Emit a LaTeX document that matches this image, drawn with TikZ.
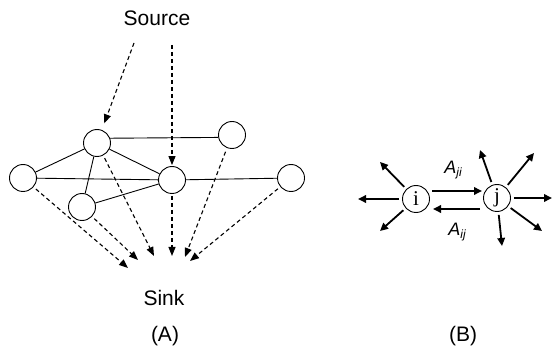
\documentclass[tikz,border=0pt]{standalone}
\usepackage{fontspec}
\setmainfont{Liberation Sans}
\newfontfamily\serifnd{Liberation Serif}
\usetikzlibrary{arrows.meta,calc}
\begin{document}
\begin{tikzpicture}[x=1pt,y=-1pt,
  nd/.style={circle,draw,line width=0.9pt,minimum size=27pt,inner sep=0pt},
  ed/.style={line width=0.9pt},
  da/.style={dash pattern=on 4pt off 3pt, line width=1.1pt, -{Triangle[length=9pt,width=7pt]}},
  ba/.style={line width=1.8pt, -{Triangle[length=8pt,width=7.5pt]}},
  lab/.style={font=\fontsize{21}{25}\selectfont, inner sep=0pt},
  sub/.style={font=\fontsize{18}{22}\selectfont\itshape, inner sep=0pt}]
\useasboundingbox (0,0) rectangle (553,352);
% ---- (A) ----
\node[nd] (n1) at (97,143) {};
\node[nd] (n2) at (232,135) {};
\node[nd] (n3) at (23,178) {};
\node[nd] (n4) at (82,207) {};
\node[nd] (n5) at (172,180) {};
\node[nd] (n6) at (291,178) {};
\draw[ed] (n1.20) -- (n2.190);
\draw[ed] (n1) -- (n3);
\draw[ed] (n1) -- (n4);
\draw[ed] (n1) -- (n5);
\draw[ed] (n3) -- (n5);
\draw[ed] (n4) -- (n5);
\draw[ed] (n5) -- (n6);
\node[lab] (src) at (157,18) {Source};
\node[lab] (snk) at (164,298) {Sink};
\coordinate (s1) at (134,43);
\coordinate (s2) at (172,45);
\draw[da,shorten >=7pt] (s1) -- (n1);
\draw[da,shorten >=1pt] (s2) -- (n5);
\coordinate (t3) at (128,268);
\coordinate (t4) at (138,260);
\coordinate (t1) at (154,256);
\coordinate (t5) at (172,256);
\coordinate (t2) at (185,257);
\coordinate (t6) at (190,261);
\draw[da,shorten <=3pt] (n3) -- (t3);
\draw[da,shorten <=3pt] (n4) -- (t4);
\draw[da,shorten <=3pt] (n1) -- (t1);
\draw[da,shorten <=2pt] (n5) -- (t5);
\draw[da,shorten <=4pt] (n2) -- (t2);
\draw[da,shorten <=3pt] (n6) -- (t6);
\node[lab] (la) at (165,336) {(A)};
% ---- (B) ----
\node[nd,font=\serifnd\fontsize{21}{22}\selectfont] (i) at (416,199) {i};
\node[nd,font=\serifnd\fontsize{21}{22}\selectfont] (j) at (497,198) {j};
\draw[ba] ($(i)+(16,-8)$) -- ($(j)+(-15,-7)$);
\draw[ba] ($(j)+(-17,11)$) -- ($(i)+(17,10)$);
\node[sub] (aji) at (453,170) {A\raisebox{-0.35ex}{\fontsize{12}{12}\selectfont ji}};
\node[sub] (aij) at (457,232) {A\raisebox{-0.35ex}{\fontsize{12}{12}\selectfont ij}};
\coordinate (o1) at (358,199);
\coordinate (o2) at (380,162);
\coordinate (o3) at (380,231);
\draw[ba,shorten <=3pt] (i) -- (o1);
\draw[ba,shorten <=3pt] (i) -- (o2);
\draw[ba,shorten <=3pt] (i) -- (o3);
\coordinate (p1) at (480,150);
\coordinate (p2) at (534,153);
\coordinate (p3) at (552,198);
\coordinate (p4) at (542,231);
\coordinate (p5) at (502,246);
\draw[ba,shorten <=3pt] (j) -- (p1);
\draw[ba,shorten <=3pt] (j) -- (p2);
\draw[ba,shorten <=3pt] (j) -- (p3);
\draw[ba,shorten <=3pt] (j) -- (p4);
\draw[ba,shorten <=3pt] (j) -- (p5);
\node[lab] (lb) at (463,336) {(B)};
\end{tikzpicture}
\end{document}
